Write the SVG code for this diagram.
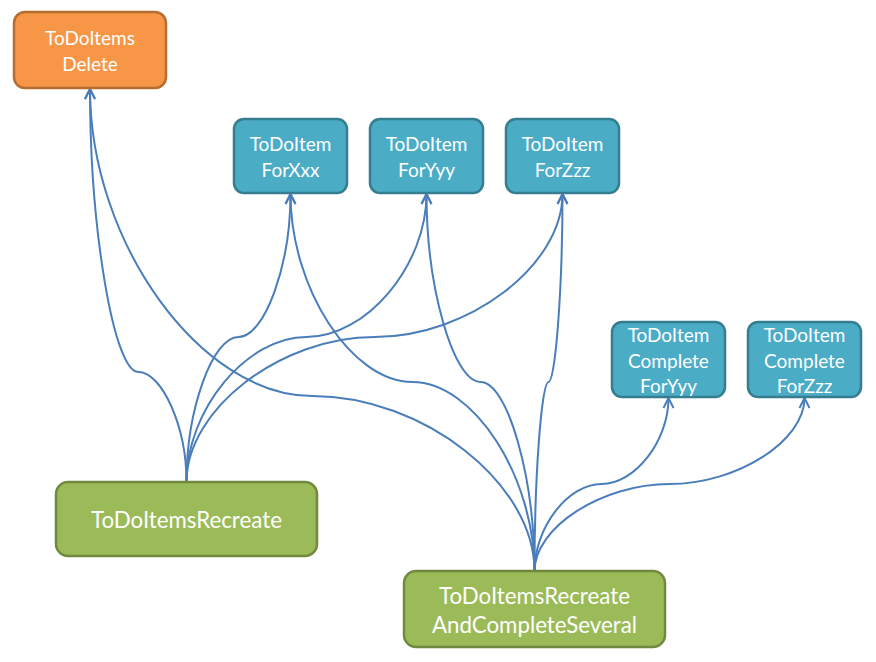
<svg xmlns="http://www.w3.org/2000/svg" width="876" height="662" viewBox="0 0 876 662">
<defs>
<marker id="arr" markerUnits="userSpaceOnUse" markerWidth="14" markerHeight="14" viewBox="-12 -7 14 14" refX="0" refY="0" orient="auto">
<path d="M-10,-5 L0,0 L-10,5" fill="none" stroke="#4A7EBB" stroke-width="2" stroke-linejoin="miter"/>
</marker>
</defs>
<style>
.c{fill:none;stroke:#4A7EBB;stroke-width:2;marker-end:url(#arr)}
.o{fill:#F79646;stroke:#B66D31;stroke-width:2.5}
.b{fill:#4BACC6;stroke:#357D91;stroke-width:2.5}
.g{fill:#9BBB59;stroke:#71893F;stroke-width:2.5}
text{font-family:Lato,"Open Sans","Liberation Sans",sans-serif;font-size:19px;fill:#FFFFFF;text-anchor:middle;dominant-baseline:central}
.L{font-size:22.3px}
</style>
<rect width="876" height="662" fill="#FFFFFF"/>
<g id="connectors">
<path class="c" d="M186.5,482 C186.5,427 162.25,372 138.25,372 C114,372 90,230.5 90,89"/>
<path class="c" d="M186.5,482 C186.5,409.5 212.5,337 238.5,337 C264.5,337 290.5,265.5 290.5,194"/>
<path class="c" d="M186.5,482 C186.5,409.5 246.5,337 306.5,337 C366.5,337 426.5,265.5 426.5,194"/>
<path class="c" d="M186.5,482 C186.5,409.5 280.5,337 374.5,337 C468.5,337 562.5,265.5 562.5,194"/>
<path class="c" d="M534.5,571 C534.5,483.5 423.5,396 312.25,396 C201,396 90,242.5 90,89"/>
<path class="c" d="M534.5,571 C534.5,476.5 473.5,382 412.5,382 C351.5,382 290.5,288 290.5,194"/>
<path class="c" d="M534.5,571 C534.5,476.5 507.5,382 480.5,382 C453.5,382 426.5,288 426.5,194"/>
<path class="c" d="M534.5,571 C534.5,476.5 541.5,382 548.5,382 C555.5,382 562.5,288 562.5,194"/>
<path class="c" d="M534.5,571 C534.5,527.5 568,484 601.5,484 C635,484 668.5,441 668.5,398"/>
<path class="c" d="M534.5,571 C534.5,527.5 602,484 669.5,484 C737,484 804.5,441 804.5,398"/>
</g>
<g id="n-delete">
<rect class="o" x="14" y="12" width="152" height="76" rx="11"/>
<text x="90" y="37">ToDoItems</text>
<text x="90" y="63">Delete</text>
</g>
<g id="n-forxxx">
<rect class="b" x="234" y="119" width="113" height="74" rx="10"/>
<text x="290.5" y="143">ToDoItem</text>
<text x="290.5" y="169">ForXxx</text>
</g>
<g id="n-foryyy">
<rect class="b" x="370" y="119" width="113" height="74" rx="10"/>
<text x="426.5" y="143">ToDoItem</text>
<text x="426.5" y="169">ForYyy</text>
</g>
<g id="n-forzzz">
<rect class="b" x="506" y="119" width="113" height="74" rx="10"/>
<text x="562.5" y="143">ToDoItem</text>
<text x="562.5" y="169">ForZzz</text>
</g>
<g id="n-completeyyy">
<rect class="b" x="612" y="322" width="113" height="75" rx="10"/>
<text x="668.5" y="334">ToDoItem</text>
<text x="668.5" y="360">Complete</text>
<text x="668.5" y="385">ForYyy</text>
</g>
<g id="n-completezzz">
<rect class="b" x="748" y="322" width="113" height="75" rx="10"/>
<text x="804.5" y="334">ToDoItem</text>
<text x="804.5" y="360">Complete</text>
<text x="804.5" y="385">ForZzz</text>
</g>
<g id="n-recreate">
<rect class="g" x="56" y="482" width="261" height="74" rx="12"/>
<text class="L" x="186.5" y="519">ToDoItemsRecreate</text>
</g>
<g id="n-recreatecomplete">
<rect class="g" x="404" y="571" width="261" height="76" rx="12"/>
<text class="L" x="534.5" y="595">ToDoItemsRecreate</text>
<text class="L" x="534.5" y="624">AndCompleteSeveral</text>
</g>
</svg>
